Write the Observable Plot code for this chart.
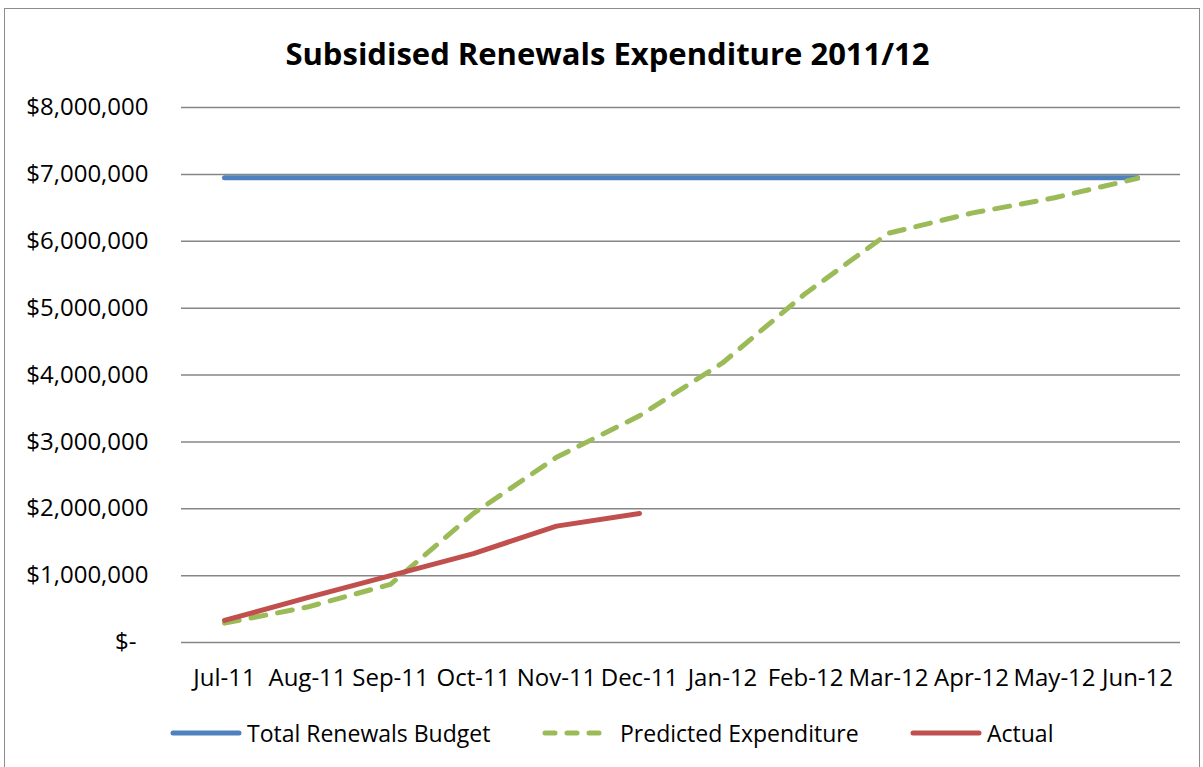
<!DOCTYPE html>
<html><head><meta charset="utf-8">
<script src="https://cdn.jsdelivr.net/npm/d3@7"></script>
<script src="https://cdn.jsdelivr.net/npm/@observablehq/plot@0.6"></script>
<style>
body{margin:0;background:#fff;font-family:"Open Sans",sans-serif;width:1203px;height:767px;overflow:hidden;position:relative;}
#frame{position:absolute;left:4px;top:8px;width:1196px;height:770px;border:1.5px solid #8c8c8c;box-sizing:border-box;}
#title{position:absolute;left:6px;width:1203px;top:35px;line-height:36px;text-align:center;font-weight:bold;font-size:31px;color:#000;}
#chart{position:absolute;left:0;top:0;}
.leg{position:absolute;top:718px;height:30px;display:flex;align-items:center;font-size:23px;color:#000;white-space:nowrap;}
.leg svg{margin-right:5px;}
</style></head>
<body>
<div id="frame"></div>
<div id="title">Subsidised Renewals Expenditure 2011/12</div>
<div id="chart"></div>
<div id="legend"></div>
<script>
const months = ["Jul-11","Aug-11","Sep-11","Oct-11","Nov-11","Dec-11","Jan-12","Feb-12","Mar-12","Apr-12","May-12","Jun-12"];
const budget = [6950000,6950000,6950000,6950000,6950000,6950000,6950000,6950000,6950000,6950000,6950000,6950000];
const predicted = [290000,530000,870000,1930000,2770000,3390000,4180000,5220000,6120000,6420000,6650000,6940000];
const actual = [330000,670000,1000000,1330000,1740000,1930000];
const yTicks = [0,1000000,2000000,3000000,4000000,5000000,6000000,7000000,8000000];
const seriesNames = ["Total Renewals Budget","Predicted Expenditure","Actual"];
const colors = ["#4F81BD","#9BBB59","#C0504D"];

const bData = months.map((m,i)=>({m, v: budget[i]}));
const pData = months.map((m,i)=>({m, v: predicted[i]}));
const aData = actual.map((v,i)=>({m: months[i], v}));

const fmt = v => v === 0 ? "$-\u2002" : "$" + d3.format(",")(v);

const chart = Plot.plot({
  width: 1203, height: 700,
  marginLeft: 181, marginRight: 23, marginTop: 107, marginBottom: 58,
  style: {fontFamily: '"Open Sans", sans-serif', fontSize: "24px", color: "#000", background: "transparent"},
  x: {type: "point", domain: months, padding: 0.5},
  y: {domain: [0, 8000000]},
  marks: [
    Plot.ruleY(yTicks, {stroke: "#868686", strokeWidth: 1.5, strokeOpacity: 1}),
    Plot.axisY({ticks: yTicks, tickSize: 0, tickPadding: 33, tickFormat: fmt, label: null, fontSize: 24}),
    Plot.axisX({tickSize: 0, tickPadding: 26, label: null, fontSize: 24}),
    Plot.line(bData, {x: "m", y: "v", stroke: colors[0], strokeWidth: 5, strokeLinecap: "round"}),
    Plot.line(pData, {x: "m", y: "v", stroke: colors[1], strokeWidth: 5, strokeDasharray: "15,12", strokeLinecap: "round", strokeLinejoin: "round"}),
    Plot.line(aData, {x: "m", y: "v", stroke: colors[2], strokeWidth: 5, strokeLinecap: "round", strokeLinejoin: "round"})
  ]
});
document.getElementById("chart").appendChild(chart);

const legLefts = [170, 542, 910];
const legend = document.getElementById("legend");
seriesNames.forEach((name, i) => {
  const div = document.createElement("div");
  div.className = "leg";
  div.style.left = legLefts[i] + "px";
  const dash = i === 1 ? 'stroke-dasharray="10,12"' : '';
  div.innerHTML = `<svg width="${i===1?70:72}" height="10"><line x1="3" y1="5" x2="${i===1?64:69}" y2="5" stroke="${colors[i]}" stroke-width="5" stroke-linecap="round" ${dash}/></svg><span>${name}</span>`;
  if (i === 1) div.querySelector("svg").style.marginRight = "8px";
  legend.appendChild(div);
});
</script>
</body></html>
